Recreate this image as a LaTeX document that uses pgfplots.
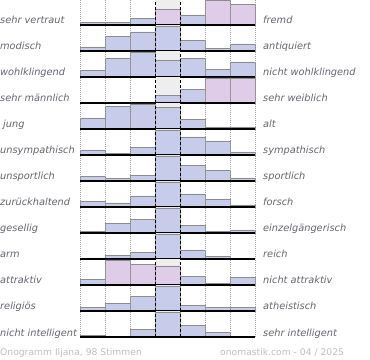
\documentclass[border=0pt]{standalone}
\usepackage{pgfplots}
\pgfplotsset{compat=1.18}
\usepackage{fontspec}
\setmainfont{DejaVu Sans}
\definecolor{barblue}{RGB}{198,204,234}
\definecolor{barpink}{RGB}{222,204,233}
\definecolor{barpurple}{RGB}{160,148,206}
\definecolor{midgray}{RGB}{238,238,238}
\definecolor{labgray}{RGB}{100,100,110}
\definecolor{footgray}{RGB}{190,190,190}
\pgfdeclareverticalshading{blueshade}{100bp}{color(0bp)=(barpurple); color(14bp)=(barblue); color(100bp)=(barblue)}
\pgfdeclareverticalshading{pinkshade}{100bp}{color(0bp)=(barpurple); color(14bp)=(barpink); color(100bp)=(barpink)}
\pgfplotsset{
  rowaxis/.style={scale only axis, width=175bp, height=26bp,
    xmin=0, xmax=7, ymin=0, ymax=26, anchor=south west,
    hide y axis, axis x line*=bottom,
    x axis line style={-, black, line width=1.4bp},
    xtick={0,1,2,5,6,7}, xticklabels={}, major tick length=0pt,
    xmajorgrids, grid style={gray!75, dash pattern=on 0.8bp off 1.2bp, line width=0.7bp},
    extra x ticks={3,4}, extra x tick labels={},
    extra x tick style={grid style={black, dash pattern=on 3bp off 2bp, line width=0.9bp}},
    axis on top, clip=false},
  bluebar/.style={ybar, bar width=1, bar shift=0pt, draw=gray!90, line width=0.7bp, shade, shading=blueshade, shading angle=0},
  pinkbar/.style={ybar, bar width=1, bar shift=0pt, draw=gray!90, line width=0.7bp, shade, shading=pinkshade, shading angle=0}
}
\tikzset{lab/.style={inner sep=0pt, text=labgray, font=\fontsize{9.8bp}{11bp}\selectfont\itshape}}
\newcommand{\labs}[3]{%
  \node[lab, anchor=base west] at (0bp,#1) {#2};
  \node[lab, anchor=base west] at (263bp,#1) {#3};}
\begin{document}
\begin{tikzpicture}
\path[use as bounding box] (0,0) rectangle (370bp,360bp);
% row 1
\begin{axis}[rowaxis, at={(80bp,335bp)}]
\fill[midgray] (axis cs:3,0) rectangle (axis cs:4,26);
\addplot[bluebar] coordinates {(0.5,2.3) (1.5,2.3) (2.5,6.7) (4.5,10)};
\addplot[pinkbar] coordinates {(3.5,15.7) (5.5,25) (6.5,20.7)};
\end{axis}
\labs{336bp}{sehr vertraut}{fremd}
% row 2
\begin{axis}[rowaxis, at={(80bp,309bp)}]
\fill[midgray] (axis cs:3,0) rectangle (axis cs:4,26);
\addplot[bluebar] coordinates {(0.5,4) (1.5,14.7) (2.5,19) (3.5,25) (4.5,10.3) (5.5,2.7) (6.5,7)};
\end{axis}
\labs{310bp}{modisch}{antiquiert}
% row 3
\begin{axis}[rowaxis, at={(80bp,283bp)}]
\fill[midgray] (axis cs:3,0) rectangle (axis cs:4,26);
\addplot[bluebar] coordinates {(0.5,6.3) (1.5,19) (2.5,25) (3.5,16.7) (4.5,18.3) (5.5,7.7) (6.5,15)};
\end{axis}
\labs{284bp}{wohlklingend}{nicht wohlklingend}
% row 4
\begin{axis}[rowaxis, at={(80bp,257bp)}]
\fill[midgray] (axis cs:3,0) rectangle (axis cs:4,26);
\addplot[bluebar] coordinates {(3.5,7.3) (4.5,13.3)};
\addplot[pinkbar] coordinates {(5.5,25) (6.5,25)};
\end{axis}
\labs{258bp}{sehr männlich}{sehr weiblich}
% row 5
\begin{axis}[rowaxis, at={(80bp,231bp)}]
\fill[midgray] (axis cs:3,0) rectangle (axis cs:4,26);
\addplot[bluebar] coordinates {(0.5,11) (1.5,22.3) (2.5,25) (3.5,21.7) (4.5,9.3) (5.5,2) (6.5,2)};
\end{axis}
\labs{232bp}{\hspace{3bp}jung}{alt}
% row 6
\begin{axis}[rowaxis, at={(80bp,205bp)}]
\fill[midgray] (axis cs:3,0) rectangle (axis cs:4,26);
\addplot[bluebar] coordinates {(0.5,5) (1.5,1.3) (2.5,7.3) (3.5,25) (4.5,18) (5.5,14) (6.5,3)};
\end{axis}
\labs{206bp}{unsympathisch}{sympathisch}
% row 7
\begin{axis}[rowaxis, at={(80bp,179bp)}]
\fill[midgray] (axis cs:3,0) rectangle (axis cs:4,26);
\addplot[bluebar] coordinates {(0.5,4.3) (1.5,2.3) (2.5,5.3) (3.5,25) (4.5,15.3) (5.5,10.3) (6.5,3)};
\end{axis}
\labs{180bp}{unsportlich}{sportlich}
% row 8
\begin{axis}[rowaxis, at={(80bp,153bp)}]
\fill[midgray] (axis cs:3,0) rectangle (axis cs:4,26);
\addplot[bluebar] coordinates {(0.5,5.3) (1.5,4) (2.5,11) (3.5,25) (4.5,13) (5.5,8) (6.5,2)};
\end{axis}
\labs{154bp}{zurückhaltend}{forsch}
% row 9
\begin{axis}[rowaxis, at={(80bp,127bp)}]
\fill[midgray] (axis cs:3,0) rectangle (axis cs:4,26);
\addplot[bluebar] coordinates {(0.5,1.3) (1.5,9.7) (2.5,13.7) (3.5,25) (4.5,7.7) (5.5,1.7) (6.5,3)};
\end{axis}
\labs{128bp}{gesellig}{einzelgängerisch}
% row 10
\begin{axis}[rowaxis, at={(80bp,101bp)}]
\fill[midgray] (axis cs:3,0) rectangle (axis cs:4,26);
\addplot[bluebar] coordinates {(0.5,1) (1.5,3.3) (2.5,6.3) (3.5,25) (4.5,9) (5.5,2.3)};
\end{axis}
\labs{102bp}{arm}{reich}
% row 11
\begin{axis}[rowaxis, at={(80bp,75bp)}]
\fill[midgray] (axis cs:3,0) rectangle (axis cs:4,26);
\addplot[bluebar] coordinates {(0.5,5.7) (4.5,8.7) (5.5,1.3) (6.5,7.7)};
\addplot[pinkbar] coordinates {(1.5,25) (2.5,20.7) (3.5,19)};
\end{axis}
\labs{76bp}{attraktiv}{nicht attraktiv}
% row 12
\begin{axis}[rowaxis, at={(80bp,49bp)}]
\fill[midgray] (axis cs:3,0) rectangle (axis cs:4,26);
\addplot[bluebar] coordinates {(0.5,3.3) (1.5,7.3) (2.5,14.3) (3.5,25) (4.5,5.3) (5.5,3.3) (6.5,4)};
\end{axis}
\labs{50bp}{religiös}{atheistisch}
% row 13
\begin{axis}[rowaxis, at={(80bp,23bp)}]
\fill[midgray] (axis cs:3,0) rectangle (axis cs:4,26);
\addplot[bluebar] coordinates {(0.5,1.3) (2.5,7.3) (3.5,25) (4.5,11.3) (5.5,4.3)};
\end{axis}
\labs{24bp}{nicht intelligent}{sehr intelligent}
% footer
\node[inner sep=0pt, anchor=base west, text=footgray, font=\fontsize{9.2bp}{11bp}\selectfont] at (0bp,5bp) {Onogramm Iljana, 98 Stimmen};
\node[inner sep=0pt, anchor=base west, text=footgray, font=\fontsize{9.2bp}{11bp}\selectfont] at (220bp,5bp) {onomastik.com - 04 / 2025};
\end{tikzpicture}
\end{document}
